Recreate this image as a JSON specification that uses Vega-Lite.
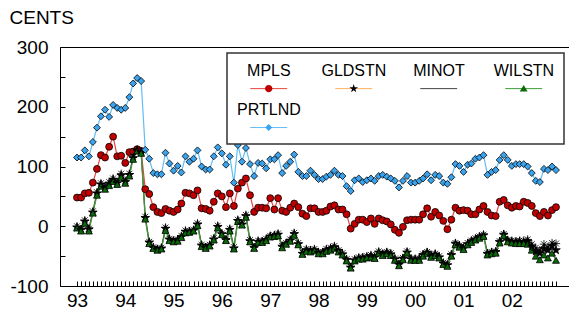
{
  "$schema": "https://vega.github.io/schema/vega-lite/v6.json",
  "width": 509,
  "height": 239,
  "autosize": {"type": "none"},
  "padding": {"left": 60, "top": 47, "right": 0, "bottom": 34},
  "background": "white",
  "config": {
    "view": {"stroke": "black", "strokeWidth": 1},
    "font": "Liberation Sans",
    "legend": {"strokeWidth": 1.5}
  },
  "data": {"values": [
    {"d":"1993-01-01","MPLS":48,"GLDSTN":-2,"MINOT":0,"WILSTN":-3,"PRTLND":115},
    {"d":"1993-02-01","MPLS":48,"GLDSTN":-6,"MINOT":-5,"WILSTN":-8,"PRTLND":115},
    {"d":"1993-03-01","MPLS":55,"GLDSTN":8,"MINOT":10,"WILSTN":5,"PRTLND":127},
    {"d":"1993-04-01","MPLS":56,"GLDSTN":-5,"MINOT":-4,"WILSTN":-8,"PRTLND":117},
    {"d":"1993-05-01","MPLS":73,"GLDSTN":23,"MINOT":25,"WILSTN":22,"PRTLND":141},
    {"d":"1993-06-01","MPLS":96,"GLDSTN":55,"MINOT":57,"WILSTN":52,"PRTLND":165},
    {"d":"1993-07-01","MPLS":119,"GLDSTN":70,"MINOT":72,"WILSTN":67,"PRTLND":184},
    {"d":"1993-08-01","MPLS":115,"GLDSTN":64,"MINOT":66,"WILSTN":62,"PRTLND":195},
    {"d":"1993-09-01","MPLS":133,"GLDSTN":71,"MINOT":74,"WILSTN":68,"PRTLND":183},
    {"d":"1993-10-01","MPLS":150,"GLDSTN":78,"MINOT":80,"WILSTN":75,"PRTLND":203},
    {"d":"1993-11-01","MPLS":117,"GLDSTN":72,"MINOT":74,"WILSTN":70,"PRTLND":198},
    {"d":"1993-12-01","MPLS":118,"GLDSTN":85,"MINOT":88,"WILSTN":82,"PRTLND":195},
    {"d":"1994-01-01","MPLS":106,"GLDSTN":74,"MINOT":76,"WILSTN":72,"PRTLND":198},
    {"d":"1994-02-01","MPLS":124,"GLDSTN":86,"MINOT":88,"WILSTN":84,"PRTLND":216},
    {"d":"1994-03-01","MPLS":125,"GLDSTN":114,"MINOT":116,"WILSTN":112,"PRTLND":239},
    {"d":"1994-04-01","MPLS":129,"GLDSTN":127,"MINOT":127,"WILSTN":126,"PRTLND":248},
    {"d":"1994-05-01","MPLS":126,"GLDSTN":124,"MINOT":125,"WILSTN":122,"PRTLND":243},
    {"d":"1994-06-01","MPLS":62,"GLDSTN":14,"MINOT":16,"WILSTN":12,"PRTLND":128},
    {"d":"1994-07-01","MPLS":54,"GLDSTN":-27,"MINOT":-26,"WILSTN":-29,"PRTLND":113},
    {"d":"1994-08-01","MPLS":32,"GLDSTN":-36,"MINOT":-35,"WILSTN":-37,"PRTLND":89},
    {"d":"1994-09-01","MPLS":24,"GLDSTN":-39,"MINOT":-38,"WILSTN":-40,"PRTLND":87},
    {"d":"1994-10-01","MPLS":22,"GLDSTN":-37,"MINOT":-36,"WILSTN":-38,"PRTLND":87},
    {"d":"1994-11-01","MPLS":29,"GLDSTN":-4,"MINOT":-2,"WILSTN":-7,"PRTLND":123},
    {"d":"1994-12-01","MPLS":26,"GLDSTN":-22,"MINOT":-21,"WILSTN":-24,"PRTLND":105},
    {"d":"1995-01-01","MPLS":24,"GLDSTN":-25,"MINOT":-24,"WILSTN":-26,"PRTLND":93},
    {"d":"1995-02-01","MPLS":28,"GLDSTN":-23,"MINOT":-22,"WILSTN":-25,"PRTLND":101},
    {"d":"1995-03-01","MPLS":38,"GLDSTN":-18,"MINOT":-16,"WILSTN":-19,"PRTLND":90},
    {"d":"1995-04-01","MPLS":56,"GLDSTN":-9,"MINOT":-7,"WILSTN":-11,"PRTLND":117},
    {"d":"1995-05-01","MPLS":55,"GLDSTN":-9,"MINOT":-9,"WILSTN":-10,"PRTLND":108},
    {"d":"1995-06-01","MPLS":52,"GLDSTN":-7,"MINOT":-6,"WILSTN":-8,"PRTLND":113},
    {"d":"1995-07-01","MPLS":60,"GLDSTN":3,"MINOT":5,"WILSTN":1,"PRTLND":127},
    {"d":"1995-08-01","MPLS":30,"GLDSTN":-32,"MINOT":-31,"WILSTN":-34,"PRTLND":100},
    {"d":"1995-09-01","MPLS":29,"GLDSTN":-36,"MINOT":-35,"WILSTN":-37,"PRTLND":95},
    {"d":"1995-10-01","MPLS":26,"GLDSTN":-32,"MINOT":-31,"WILSTN":-33,"PRTLND":95},
    {"d":"1995-11-01","MPLS":41,"GLDSTN":-22,"MINOT":-20,"WILSTN":-23,"PRTLND":117},
    {"d":"1995-12-01","MPLS":55,"GLDSTN":-1,"MINOT":1,"WILSTN":-3,"PRTLND":132},
    {"d":"1996-01-01","MPLS":50,"GLDSTN":-13,"MINOT":-12,"WILSTN":-14,"PRTLND":122},
    {"d":"1996-02-01","MPLS":32,"GLDSTN":-23,"MINOT":-22,"WILSTN":-24,"PRTLND":103},
    {"d":"1996-03-01","MPLS":55,"GLDSTN":-6,"MINOT":-4,"WILSTN":-8,"PRTLND":117},
    {"d":"1996-04-01","MPLS":34,"GLDSTN":-37,"MINOT":-35,"WILSTN":-38,"PRTLND":73},
    {"d":"1996-05-01","MPLS":63,"GLDSTN":9,"MINOT":11,"WILSTN":8,"PRTLND":136},
    {"d":"1996-06-01","MPLS":73,"GLDSTN":3,"MINOT":4,"WILSTN":2,"PRTLND":108},
    {"d":"1996-07-01","MPLS":80,"GLDSTN":17,"MINOT":19,"WILSTN":15,"PRTLND":131},
    {"d":"1996-08-01","MPLS":52,"GLDSTN":-25,"MINOT":-23,"WILSTN":-26,"PRTLND":104},
    {"d":"1996-09-01","MPLS":24,"GLDSTN":-36,"MINOT":-35,"WILSTN":-37,"PRTLND":84},
    {"d":"1996-10-01","MPLS":31,"GLDSTN":-26,"MINOT":-24,"WILSTN":-27,"PRTLND":106},
    {"d":"1996-11-01","MPLS":31,"GLDSTN":-26,"MINOT":-25,"WILSTN":-27,"PRTLND":105},
    {"d":"1996-12-01","MPLS":30,"GLDSTN":-23,"MINOT":-21,"WILSTN":-24,"PRTLND":97},
    {"d":"1997-01-01","MPLS":47,"GLDSTN":-17,"MINOT":-16,"WILSTN":-18,"PRTLND":112},
    {"d":"1997-02-01","MPLS":28,"GLDSTN":-16,"MINOT":-15,"WILSTN":-17,"PRTLND":112},
    {"d":"1997-03-01","MPLS":47,"GLDSTN":-14,"MINOT":-12,"WILSTN":-16,"PRTLND":119},
    {"d":"1997-04-01","MPLS":26,"GLDSTN":-34,"MINOT":-33,"WILSTN":-36,"PRTLND":89},
    {"d":"1997-05-01","MPLS":24,"GLDSTN":-29,"MINOT":-28,"WILSTN":-30,"PRTLND":101},
    {"d":"1997-06-01","MPLS":31,"GLDSTN":-24,"MINOT":-22,"WILSTN":-25,"PRTLND":108},
    {"d":"1997-07-01","MPLS":38,"GLDSTN":-13,"MINOT":-11,"WILSTN":-15,"PRTLND":120},
    {"d":"1997-08-01","MPLS":32,"GLDSTN":-30,"MINOT":-28,"WILSTN":-31,"PRTLND":91},
    {"d":"1997-09-01","MPLS":21,"GLDSTN":-46,"MINOT":-44,"WILSTN":-47,"PRTLND":84},
    {"d":"1997-10-01","MPLS":17,"GLDSTN":-40,"MINOT":-38,"WILSTN":-42,"PRTLND":84},
    {"d":"1997-11-01","MPLS":30,"GLDSTN":-41,"MINOT":-40,"WILSTN":-43,"PRTLND":93},
    {"d":"1997-12-01","MPLS":30,"GLDSTN":-40,"MINOT":-38,"WILSTN":-41,"PRTLND":86},
    {"d":"1998-01-01","MPLS":24,"GLDSTN":-45,"MINOT":-43,"WILSTN":-46,"PRTLND":79},
    {"d":"1998-02-01","MPLS":24,"GLDSTN":-44,"MINOT":-43,"WILSTN":-46,"PRTLND":79},
    {"d":"1998-03-01","MPLS":26,"GLDSTN":-40,"MINOT":-38,"WILSTN":-42,"PRTLND":83},
    {"d":"1998-04-01","MPLS":33,"GLDSTN":-38,"MINOT":-36,"WILSTN":-40,"PRTLND":86},
    {"d":"1998-05-01","MPLS":35,"GLDSTN":-35,"MINOT":-33,"WILSTN":-37,"PRTLND":93},
    {"d":"1998-06-01","MPLS":28,"GLDSTN":-41,"MINOT":-40,"WILSTN":-43,"PRTLND":86},
    {"d":"1998-07-01","MPLS":28,"GLDSTN":-47,"MINOT":-45,"WILSTN":-48,"PRTLND":84},
    {"d":"1998-08-01","MPLS":20,"GLDSTN":-56,"MINOT":-55,"WILSTN":-58,"PRTLND":67},
    {"d":"1998-09-01","MPLS":-4,"GLDSTN":-69,"MINOT":-68,"WILSTN":-70,"PRTLND":59},
    {"d":"1998-10-01","MPLS":4,"GLDSTN":-57,"MINOT":-55,"WILSTN":-58,"PRTLND":77},
    {"d":"1998-11-01","MPLS":11,"GLDSTN":-54,"MINOT":-52,"WILSTN":-55,"PRTLND":80},
    {"d":"1998-12-01","MPLS":11,"GLDSTN":-53,"MINOT":-52,"WILSTN":-55,"PRTLND":74},
    {"d":"1999-01-01","MPLS":7,"GLDSTN":-52,"MINOT":-50,"WILSTN":-53,"PRTLND":77},
    {"d":"1999-02-01","MPLS":13,"GLDSTN":-50,"MINOT":-48,"WILSTN":-52,"PRTLND":80},
    {"d":"1999-03-01","MPLS":4,"GLDSTN":-52,"MINOT":-51,"WILSTN":-54,"PRTLND":76},
    {"d":"1999-04-01","MPLS":13,"GLDSTN":-44,"MINOT":-42,"WILSTN":-45,"PRTLND":84},
    {"d":"1999-05-01","MPLS":10,"GLDSTN":-47,"MINOT":-46,"WILSTN":-49,"PRTLND":86},
    {"d":"1999-06-01","MPLS":8,"GLDSTN":-44,"MINOT":-43,"WILSTN":-46,"PRTLND":83},
    {"d":"1999-07-01","MPLS":3,"GLDSTN":-47,"MINOT":-45,"WILSTN":-49,"PRTLND":80},
    {"d":"1999-08-01","MPLS":-6,"GLDSTN":-55,"MINOT":-54,"WILSTN":-57,"PRTLND":76},
    {"d":"1999-09-01","MPLS":-11,"GLDSTN":-64,"MINOT":-63,"WILSTN":-66,"PRTLND":65},
    {"d":"1999-10-01","MPLS":-1,"GLDSTN":-54,"MINOT":-53,"WILSTN":-56,"PRTLND":76},
    {"d":"1999-11-01","MPLS":10,"GLDSTN":-44,"MINOT":-42,"WILSTN":-45,"PRTLND":84},
    {"d":"1999-12-01","MPLS":11,"GLDSTN":-55,"MINOT":-54,"WILSTN":-57,"PRTLND":73},
    {"d":"2000-01-01","MPLS":11,"GLDSTN":-56,"MINOT":-54,"WILSTN":-57,"PRTLND":73},
    {"d":"2000-02-01","MPLS":11,"GLDSTN":-55,"MINOT":-54,"WILSTN":-57,"PRTLND":76},
    {"d":"2000-03-01","MPLS":20,"GLDSTN":-48,"MINOT":-47,"WILSTN":-50,"PRTLND":80},
    {"d":"2000-04-01","MPLS":30,"GLDSTN":-44,"MINOT":-43,"WILSTN":-46,"PRTLND":87},
    {"d":"2000-05-01","MPLS":16,"GLDSTN":-50,"MINOT":-49,"WILSTN":-52,"PRTLND":77},
    {"d":"2000-06-01","MPLS":24,"GLDSTN":-47,"MINOT":-46,"WILSTN":-49,"PRTLND":86},
    {"d":"2000-07-01","MPLS":18,"GLDSTN":-52,"MINOT":-50,"WILSTN":-53,"PRTLND":84},
    {"d":"2000-08-01","MPLS":9,"GLDSTN":-62,"MINOT":-61,"WILSTN":-64,"PRTLND":73},
    {"d":"2000-09-01","MPLS":-5,"GLDSTN":-65,"MINOT":-64,"WILSTN":-67,"PRTLND":71},
    {"d":"2000-10-01","MPLS":11,"GLDSTN":-48,"MINOT":-47,"WILSTN":-50,"PRTLND":82},
    {"d":"2000-11-01","MPLS":31,"GLDSTN":-29,"MINOT":-28,"WILSTN":-31,"PRTLND":104},
    {"d":"2000-12-01","MPLS":26,"GLDSTN":-33,"MINOT":-32,"WILSTN":-35,"PRTLND":101},
    {"d":"2001-01-01","MPLS":27,"GLDSTN":-37,"MINOT":-36,"WILSTN":-39,"PRTLND":91},
    {"d":"2001-02-01","MPLS":26,"GLDSTN":-30,"MINOT":-28,"WILSTN":-31,"PRTLND":103},
    {"d":"2001-03-01","MPLS":20,"GLDSTN":-25,"MINOT":-24,"WILSTN":-27,"PRTLND":105},
    {"d":"2001-04-01","MPLS":20,"GLDSTN":-22,"MINOT":-20,"WILSTN":-23,"PRTLND":113},
    {"d":"2001-05-01","MPLS":28,"GLDSTN":-18,"MINOT":-17,"WILSTN":-20,"PRTLND":115},
    {"d":"2001-06-01","MPLS":34,"GLDSTN":-15,"MINOT":-14,"WILSTN":-17,"PRTLND":119},
    {"d":"2001-07-01","MPLS":24,"GLDSTN":-46,"MINOT":-45,"WILSTN":-48,"PRTLND":86},
    {"d":"2001-08-01","MPLS":18,"GLDSTN":-44,"MINOT":-43,"WILSTN":-46,"PRTLND":91},
    {"d":"2001-09-01","MPLS":17,"GLDSTN":-43,"MINOT":-42,"WILSTN":-45,"PRTLND":94},
    {"d":"2001-10-01","MPLS":41,"GLDSTN":-26,"MINOT":-25,"WILSTN":-28,"PRTLND":111},
    {"d":"2001-11-01","MPLS":44,"GLDSTN":-14,"MINOT":-13,"WILSTN":-16,"PRTLND":119},
    {"d":"2001-12-01","MPLS":35,"GLDSTN":-24,"MINOT":-23,"WILSTN":-26,"PRTLND":111},
    {"d":"2002-01-01","MPLS":31,"GLDSTN":-26,"MINOT":-24,"WILSTN":-28,"PRTLND":101},
    {"d":"2002-02-01","MPLS":34,"GLDSTN":-27,"MINOT":-25,"WILSTN":-29,"PRTLND":104},
    {"d":"2002-03-01","MPLS":33,"GLDSTN":-26,"MINOT":-24,"WILSTN":-29,"PRTLND":104},
    {"d":"2002-04-01","MPLS":41,"GLDSTN":-27,"MINOT":-24,"WILSTN":-29,"PRTLND":104},
    {"d":"2002-05-01","MPLS":39,"GLDSTN":-25,"MINOT":-22,"WILSTN":-30,"PRTLND":100},
    {"d":"2002-06-01","MPLS":34,"GLDSTN":-34,"MINOT":-30,"WILSTN":-40,"PRTLND":89},
    {"d":"2002-07-01","MPLS":22,"GLDSTN":-42,"MINOT":-36,"WILSTN":-50,"PRTLND":76},
    {"d":"2002-08-01","MPLS":17,"GLDSTN":-45,"MINOT":-40,"WILSTN":-56,"PRTLND":74},
    {"d":"2002-09-01","MPLS":24,"GLDSTN":-38,"MINOT":-30,"WILSTN":-48,"PRTLND":96},
    {"d":"2002-10-01","MPLS":18,"GLDSTN":-40,"MINOT":-35,"WILSTN":-53,"PRTLND":94},
    {"d":"2002-11-01","MPLS":27,"GLDSTN":-33,"MINOT":-28,"WILSTN":-45,"PRTLND":100},
    {"d":"2002-12-01","MPLS":32,"GLDSTN":-40,"MINOT":-29,"WILSTN":-57,"PRTLND":94}
  ]},
  "transform": [{"fold": ["MPLS", "GLDSTN", "MINOT", "WILSTN", "PRTLND"], "as": ["series", "cents"]}],
  "encoding": {
    "x": {
      "field": "d", "type": "temporal",
      "scale": {"type": "utc", "domain": [{"year": 1993, "month": 1, "date": 1, "utc": true}, {"year": 2002, "month": 12, "date": 1, "utc": true}], "range": [17, 496], "nice": false},
      "axis": {
        "title": null, "tickCount": {"interval": "month", "step": 1},
        "labelExpr": "utcmonth(datum.value) == 0 ? utcFormat(datum.value, '%y') : ''",
        "tickSize": -5, "tickColor": "black", "tickWidth": 1, "domain": false, "grid": false,
        "labelFontSize": 19, "labelColor": "black", "labelPadding": 10,
        "labelOverlap": false, "labelFlush": false, "labelBound": false, "labelAlign": "center"
      }
    },
    "y": {
      "field": "cents", "type": "quantitative",
      "scale": {"domain": [-100, 300], "nice": false, "zero": false},
      "axis": {
        "title": "CENTS", "titleAngle": 0, "titleAlign": "left", "titleBaseline": "alphabetic",
        "titleX": -51, "titleY": -24, "titleFontSize": 19, "titleFontWeight": "normal", "titleColor": "black",
        "values": [-100, -50, 0, 50, 100, 150, 200, 250, 300],
        "labelExpr": "datum.value % 100 == 0 ? '' + datum.value : ''",
        "tickSize": -5, "tickColor": "black", "domain": false, "grid": false,
        "labelFontSize": 19, "labelColor": "black", "labelPadding": 17
      }
    }
  },
  "layer": [
    {
      "mark": {"type": "line", "strokeWidth": 1.2},
      "encoding": {
        "color": {
          "field": "series", "type": "nominal",
          "scale": {"domain": ["MPLS", "GLDSTN", "MINOT", "WILSTN", "PRTLND"], "range": ["#e8453f", "#ffb060", "#454545", "#3c9e3c", "#62bdf6"]},
          "legend": {
            "orient": "none", "legendX": 167, "legendY": 6, "direction": "horizontal", "columns": 4, "gridAlign": "all",
            "title": null, "symbolType": "M-1.5,1.06L1.5,1.06M-1.5,0.6M1.5,1.45", "symbolSize": 605, "symbolStrokeWidth": 1, "symbolOpacity": 1, "symbolOffset": 19.2,
            "labelFontSize": 16, "labelColor": "black", "labelAlign": "center", "labelBaseline": "alphabetic",
            "labelOffset": -12.8, "labelLimit": 0, "columnPadding": 19, "rowPadding": 6, "padding": 9.5,
            "strokeColor": "#333333", "fillColor": "white"
          }
        }
      }
    },
    {
      "mark": {"type": "point", "filled": true, "opacity": 1, "size": 48, "stroke": "black", "strokeWidth": 0.8},
      "encoding": {
        "color": {
          "field": "series", "type": "nominal",
          "scale": {"domain": ["MPLS", "GLDSTN", "MINOT", "WILSTN", "PRTLND"], "range": ["#c00000", "#000000", "#000000", "#0a6a0a", "#3aa3ee"]},
          "legend": null
        },
        "shape": {
          "field": "series", "type": "nominal",
          "scale": {"domain": ["MPLS", "GLDSTN", "MINOT", "WILSTN", "PRTLND"], "range": ["circle", "M0,-1.3L0.29,-0.4L1.24,-0.4L0.47,0.15L0.76,1.05L0,0.5L-0.76,1.05L-0.47,0.15L-1.24,-0.4L-0.29,-0.4Z", "M-1.2,0L1.2,0M0,-1.2L0,1.2M-0.85,-0.85L0.85,0.85M-0.85,0.85L0.85,-0.85", "triangle-up", "diamond"]},
          "legend": null
        }
      }
    },
    {
      "transform": [{"filter": "false"}],
      "mark": {"type": "point", "filled": true, "opacity": 1, "size": 605, "stroke": "black", "strokeWidth": 1},
      "encoding": {
        "color": {
          "field": "series", "type": "nominal",
          "scale": {"domain": ["MPLS", "GLDSTN", "MINOT", "WILSTN", "PRTLND"], "range": ["#c00000", "#000000", "#000000", "#0a6a0a", "#3aa3ee"]},
          "legend": {
            "orient": "none", "legendX": 167, "legendY": 6, "direction": "horizontal", "columns": 4, "gridAlign": "all",
            "title": null, "symbolSize": 605, "symbolStrokeColor": "black", "symbolStrokeWidth": 1, "symbolOpacity": 1, "symbolOffset": 19.2,
            "labelFontSize": 16, "labelOpacity": 0, "labelAlign": "center", "labelBaseline": "alphabetic",
            "labelOffset": -12.8, "labelLimit": 0, "columnPadding": 19, "rowPadding": 6, "padding": 9.5
          }
        },
        "shape": {
          "field": "series", "type": "nominal",
          "scale": {"domain": ["MPLS", "GLDSTN", "MINOT", "WILSTN", "PRTLND"], "range": [
            "M0.3,1.06A0.3,0.3 0 1,1 -0.3,1.06A0.3,0.3 0 1,1 0.3,1.06ZM-1.5,0.6M1.5,1.45",
            "M0,0.69L0.083,0.946L0.352,0.946L0.134,1.104L0.217,1.359L0,1.201L-0.217,1.359L-0.134,1.104L-0.352,0.946L-0.083,0.946ZM-1.5,0.6M1.5,1.45",
            "M-0.3,1.06L0.3,1.06M0,0.76L0,1.36M-0.22,0.84L0.22,1.28M-0.22,1.28L0.22,0.84M-1.5,0.6M1.5,1.45",
            "M0,0.76L0.32,1.3L-0.32,1.3ZM-1.5,0.6M1.5,1.45",
            "M0,0.78L0.28,1.06L0,1.34L-0.28,1.06ZM-1.5,0.6M1.5,1.45"
          ]},
          "legend": {
            "orient": "none", "legendX": 167, "legendY": 6, "direction": "horizontal", "columns": 4, "gridAlign": "all",
            "title": null, "symbolSize": 605, "symbolStrokeColor": "black", "symbolStrokeWidth": 1, "symbolOpacity": 1, "symbolOffset": 19.2,
            "labelFontSize": 16, "labelOpacity": 0, "labelAlign": "center", "labelBaseline": "alphabetic",
            "labelOffset": -12.8, "labelLimit": 0, "columnPadding": 19, "rowPadding": 6, "padding": 9.5
          }
        }
      }
    }
  ],
  "resolve": {"scale": {"color": "independent", "shape": "independent"}}
}
